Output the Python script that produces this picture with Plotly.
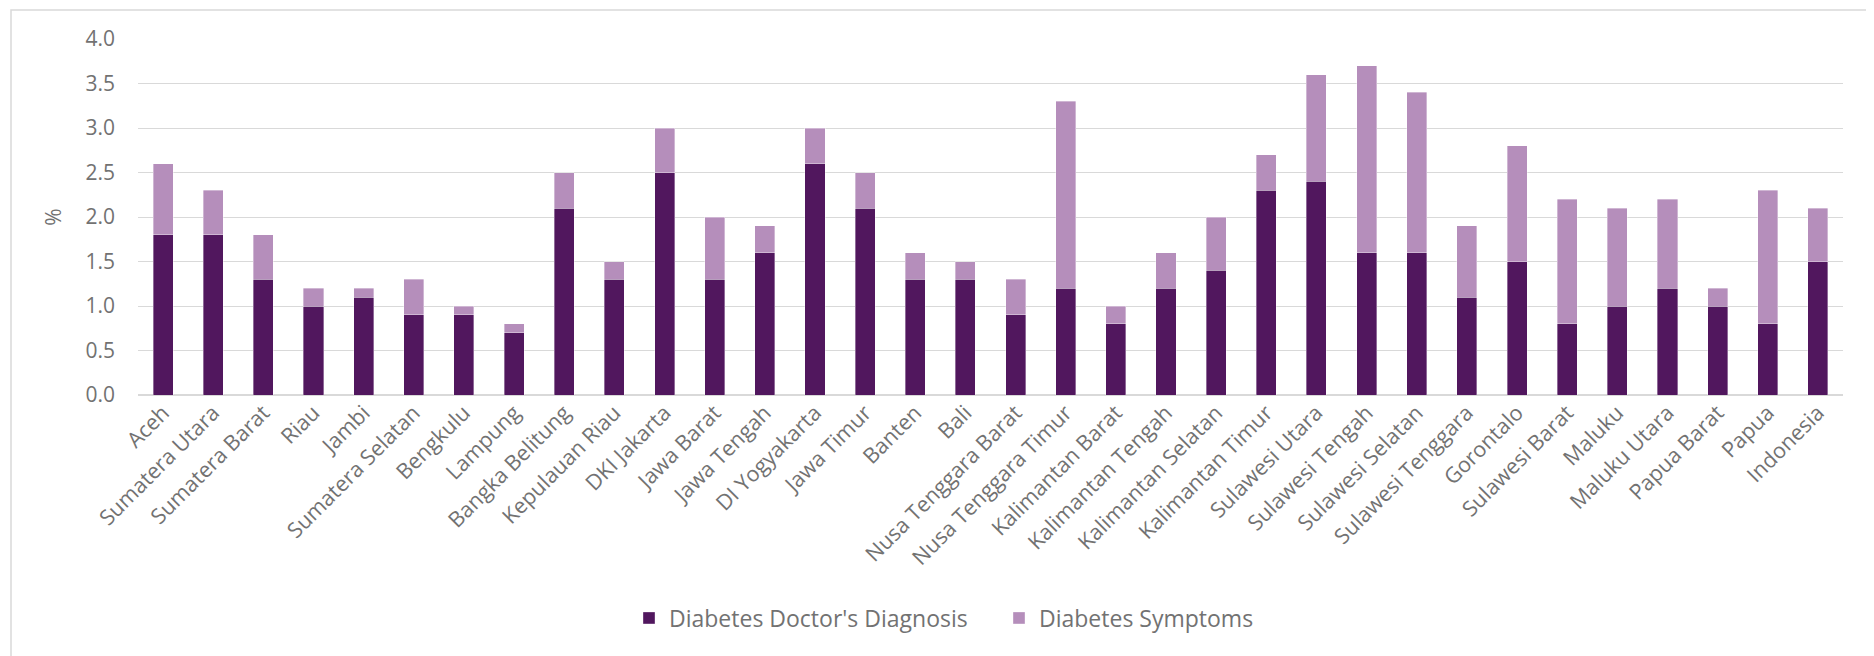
import plotly.graph_objects as go

provinces = [
    "Aceh", "Sumatera Utara", "Sumatera Barat", "Riau", "Jambi", "Sumatera Selatan",
    "Bengkulu", "Lampung", "Bangka Belitung", "Kepulauan Riau", "DKI Jakarta",
    "Jawa Barat", "Jawa Tengah", "DI Yogyakarta", "Jawa Timur", "Banten", "Bali",
    "Nusa Tenggara Barat", "Nusa Tenggara Timur", "Kalimantan Barat",
    "Kalimantan Tengah", "Kalimantan Selatan", "Kalimantan Timur", "Sulawesi Utara",
    "Sulawesi Tengah", "Sulawesi Selatan", "Sulawesi Tenggara", "Gorontalo",
    "Sulawesi Barat", "Maluku", "Maluku Utara", "Papua Barat", "Papua", "Indonesia",
]

doctor_diagnosis = [
    1.8, 1.8, 1.3, 1.0, 1.1, 0.9, 0.9, 0.7, 2.1, 1.3, 2.5, 1.3, 1.6, 2.6, 2.1, 1.3, 1.3,
    0.9, 1.2, 0.8, 1.2, 1.4, 2.3, 2.4, 1.6, 1.6, 1.1, 1.5, 0.8, 1.0, 1.2, 1.0, 0.8, 1.5,
]

symptoms = [
    0.8, 0.5, 0.5, 0.2, 0.1, 0.4, 0.1, 0.1, 0.4, 0.2, 0.5, 0.7, 0.3, 0.4, 0.4, 0.3, 0.2,
    0.4, 2.1, 0.2, 0.4, 0.6, 0.4, 1.2, 2.1, 1.8, 0.8, 1.3, 1.4, 1.1, 1.0, 0.2, 1.5, 0.6,
]

y_ticks = [0.0, 0.5, 1.0, 1.5, 2.0, 2.5, 3.0, 3.5, 4.0]

DARK = "#51175E"
LIGHT = "#B58EBB"
TEXT = "#727272"
GRID = "#D9D9D9"
FONT = "Open Sans"

fig = go.Figure()
fig.add_trace(go.Bar(
    x=provinces, y=doctor_diagnosis, name="Diabetes Doctor's Diagnosis",
    marker=dict(color=DARK, line=dict(color="rgba(255,255,255,0.6)", width=0.6)),
))
fig.add_trace(go.Bar(
    x=provinces, y=symptoms, name="Diabetes Symptoms",
    marker=dict(color=LIGHT, line=dict(color="rgba(255,255,255,0.6)", width=0.6)),
))

# page has an 8px body margin, so the figure is 8px smaller and offset
OFF = 8
W, H = 1874 - OFF, 656 - OFF
L, R, T, B = 138 - OFF, 1874 - 1843, 39 - OFF, 656 - 395
pw = W - L - R
ph = H - T - B

def px_x(x):
    return (x - OFF - L) / pw

def px_y(y):
    return (H - B - (y - OFF)) / ph

fig.update_layout(
    width=W, height=H,
    barmode="stack", bargap=0.6,
    paper_bgcolor="white", plot_bgcolor="white",
    margin=dict(l=L, r=R, t=T, b=B, autoexpand=False),
    font=dict(family=FONT, color=TEXT, size=21),
    xaxis=dict(
        tickangle=-45, tickfont=dict(size=21.5, color=TEXT, family=FONT),
        showgrid=False, showline=False, ticks="", automargin=False,
    ),
    yaxis=dict(
        range=[0, 4], tickvals=y_ticks, tickformat=".1f",
        tickfont=dict(size=21, color=TEXT, family=FONT),
        showgrid=True, gridcolor=GRID, gridwidth=1.3,
        zeroline=True, zerolinecolor=GRID, zerolinewidth=1.5,
        showline=False, ticks="", ticklabelstandoff=22, automargin=False,
        title=dict(text="%", font=dict(size=21, color=TEXT, family=FONT), standoff=18),
    ),
    legend=dict(
        orientation="h", x=px_x(999), xanchor="center", y=px_y(618), yanchor="middle",
        font=dict(size=23, color=TEXT, family=FONT), itemwidth=30,
        entrywidth=325, entrywidthmode="pixels",
        traceorder="normal", bgcolor="rgba(0,0,0,0)",
    ),
    shapes=[dict(
        type="rect", xref="paper", yref="paper",
        x0=px_x(11), x1=px_x(1872), y0=px_y(670), y1=px_y(10),
        line=dict(color=GRID, width=1.5), fillcolor="rgba(0,0,0,0)", layer="below",
    )],
)

fig.write_html("out.html")
